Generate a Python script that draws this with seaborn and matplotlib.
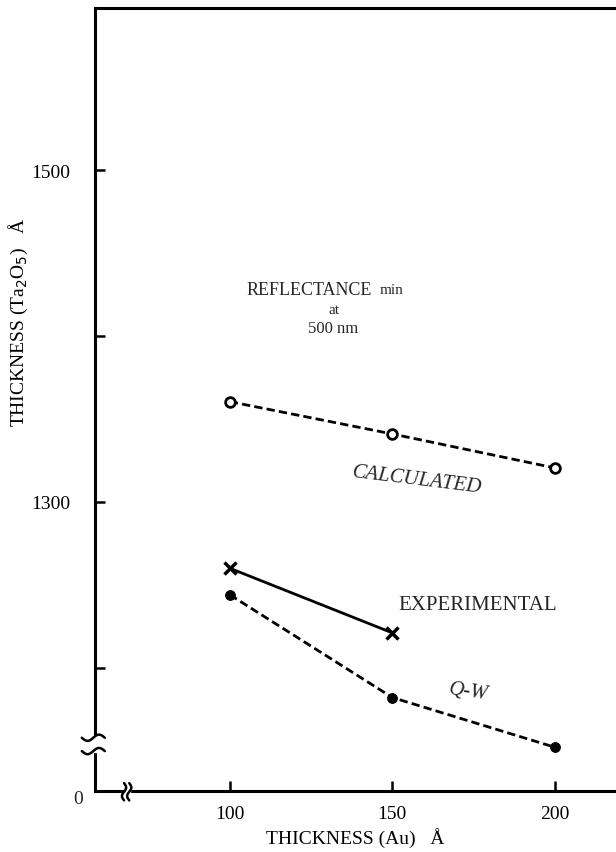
import numpy as np
import pandas as pd
import seaborn as sns
import matplotlib.pyplot as plt
from matplotlib.patches import Rectangle

# data
au_thickness = [100, 150, 200]
calculated = [1360.5, 1341, 1320.5]
experimental_x = [100, 150]
experimental = [1260, 1221]
qw = [1244, 1182, 1152]

sns.set_style("ticks")
plt.rcParams['font.family'] = ['Liberation Serif', 'DejaVu Serif']

fig = plt.figure(figsize=(6.16, 8.53), dpi=100)
ax = fig.add_axes([0.154, 0.0715, 0.846, 0.918])

df_calc = pd.DataFrame({"x": au_thickness, "y": calculated})
df_exp = pd.DataFrame({"x": experimental_x, "y": experimental})
df_qw = pd.DataFrame({"x": au_thickness, "y": qw})

sns.lineplot(data=df_calc, x="x", y="y", ax=ax, color="black", lw=2,
             linestyle=(0, (3, 1.5)), marker="o", markersize=7,
             markerfacecolor="white", markeredgecolor="black", markeredgewidth=2)
sns.lineplot(data=df_exp, x="x", y="y", ax=ax, color="black", lw=2,
             marker="x", markersize=8, markeredgewidth=2.5,
             markeredgecolor="black")
sns.lineplot(data=df_qw, x="x", y="y", ax=ax, color="black", lw=2,
             linestyle=(0, (3, 1.5)), marker="o", markersize=7,
             markerfacecolor="black", markeredgecolor="black")

ax.set_xlim(58.5, 218.8)
ax.set_ylim(1125.6, 1598)

for side in ["left", "top", "bottom"]:
    ax.spines[side].set_linewidth(2.2)
    ax.spines[side].set_color("black")
ax.spines["right"].set_visible(False)

ax.set_xticks([100, 150, 200])
ax.set_xticklabels(["100", "150", "200"])
ax.set_yticks([1200, 1300, 1400, 1500])
ax.set_yticklabels(["", "1300", "", "1500"])
ax.tick_params(axis="both", direction="in", length=7, width=1.8,
               labelsize=14, color="black", labelcolor="black")
ax.tick_params(axis="x", pad=10)
ax.tick_params(axis="y", pad=18)
ax.text(-0.033, -0.01, "0", transform=ax.transAxes, fontsize=14,
        ha="center", va="center")

ax.set_xlabel("THICKNESS (Au)   Å", fontsize=14, labelpad=4, color="black")
ax.set_ylabel("THICKNESS (Ta$_2$O$_5$)   Å", fontsize=14, color="black")
ax.yaxis.set_label_coords(-0.125, 0.6)

# annotations
ax.text(143.7, 1428.4, "REFLECTANCE", fontsize=13, ha="right", va="center")
ax.text(146.2, 1428.4, "min", fontsize=11, ha="left", va="center")
ax.text(132, 1416.3, "at", fontsize=11, ha="center", va="center")
ax.text(131.7, 1405, "500 nm", fontsize=12, ha="center", va="center")
ax.text(157.6, 1313.8, "CALCULATED", fontsize=15, ha="center", va="center",
        rotation=-7, fontstyle="italic")
ax.text(176.3, 1238.3, "EXPERIMENTAL", fontsize=15, ha="center", va="center")
ax.text(173.3, 1185.8, "Q-W", fontsize=15, ha="center", va="center",
        rotation=-8, fontstyle="italic")

# axis break marks
tr = ax.transAxes
ax.add_patch(Rectangle((-0.02, 0.05), 0.04, 0.02, transform=tr, color="white",
                       clip_on=False, zorder=5))
t = np.linspace(-1, 1, 30)
for dy in [0.051, 0.068]:
    ax.plot(-0.003 + 0.022 * t, dy + 0.004 * np.sin(np.pi * t), transform=tr,
            color="black", lw=1.8, clip_on=False, zorder=6)
ax.add_patch(Rectangle((0.055, -0.012), 0.012, 0.024, transform=tr, color="white",
                       clip_on=False, zorder=5))
for dx in [0.056, 0.066]:
    ax.plot(dx + 0.004 * np.sin(np.pi * t), -0.001 + 0.011 * t, transform=tr,
            color="black", lw=1.8, clip_on=False, zorder=6)

fig.savefig("out.png", dpi=100)
